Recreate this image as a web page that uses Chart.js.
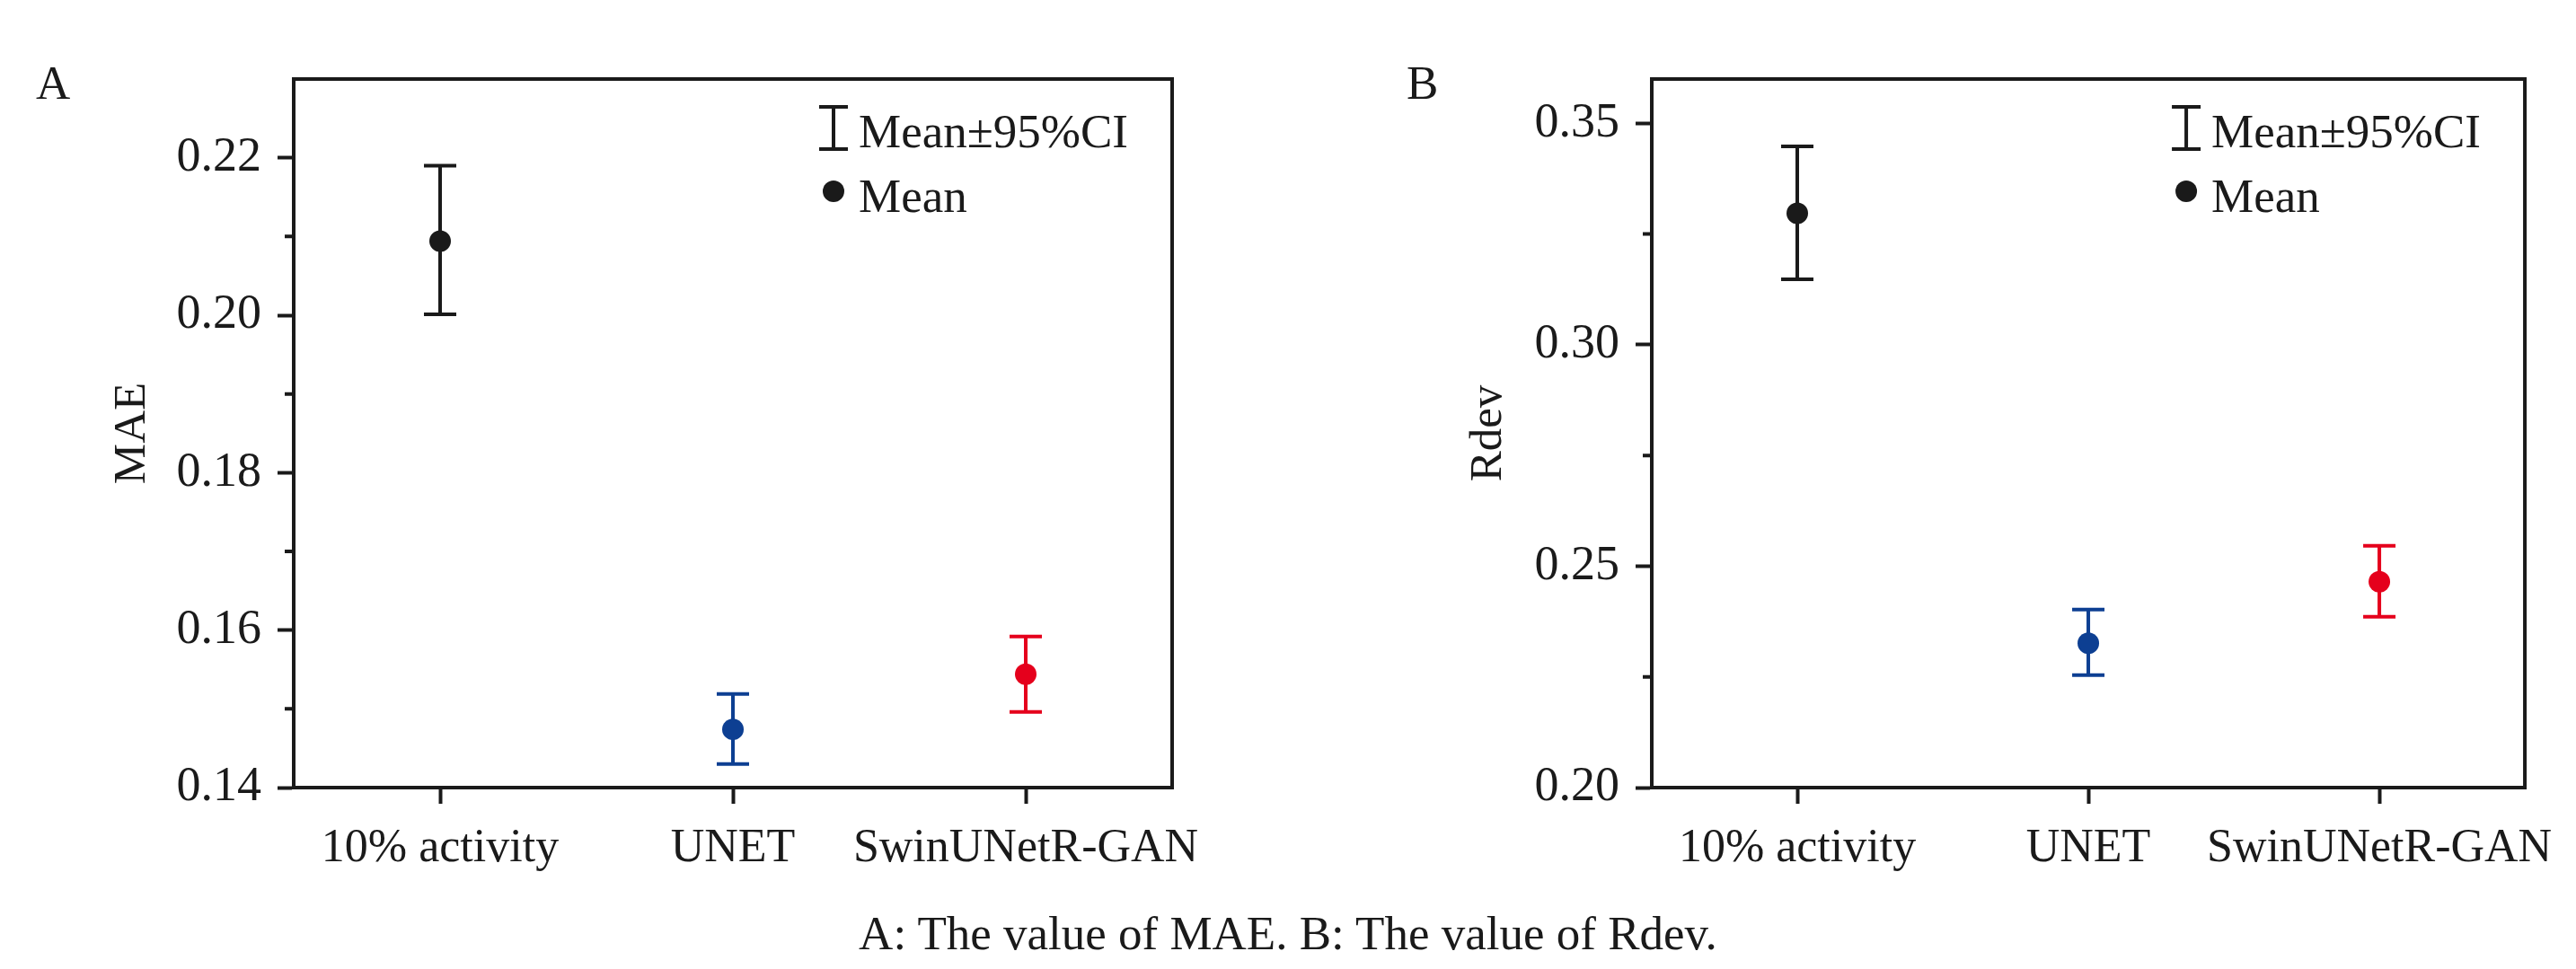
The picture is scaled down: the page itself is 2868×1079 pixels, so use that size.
<!DOCTYPE html>
<html>
<head>
<meta charset="utf-8">
<script src="https://cdn.jsdelivr.net/npm/chart.js@4.4.1/dist/chart.umd.min.js"></script>
<style>
  html, body { margin: 0; padding: 0; background: #ffffff; }
  body { width: 2868px; height: 1079px; position: relative; overflow: hidden; }
  .panel { position: absolute; top: 0; width: 1434px; height: 1000px; }
  #caption { position: absolute; left: 0; width: 2868px; top: 1013px; text-align: center;
    font-family: "Liberation Serif", "Times New Roman", serif; font-size: 53px; line-height: 53px; color: #1a1a1a; }
</style>
</head>
<body>
<div class="panel" style="left:0"><canvas id="chartA"></canvas></div>
<div class="panel" style="left:1434px"><canvas id="chartB"></canvas></div>
<div id="caption">A: The value of MAE. B: The value of Rdev.</div>
<script>
// ---- data ----
const categories = ['10% activity', 'UNET', 'SwinUNetR-GAN'];

const maeMean  = [0.2094, 0.1474, 0.1544];
const maeLower = [0.2001, 0.1430, 0.1496];
const maeUpper = [0.2190, 0.1519, 0.1592];

const rdevMean  = [0.3297, 0.2326, 0.2465];
const rdevLower = [0.3148, 0.2254, 0.2386];
const rdevUpper = [0.3448, 0.2402, 0.2546];

const maeTicks = [0.14, 0.16, 0.18, 0.20, 0.22];
const maeMinorTicks = [0.15, 0.17, 0.19, 0.21];
const rdevTicks = [0.20, 0.25, 0.30, 0.35];
const rdevMinorTicks = [0.225, 0.275, 0.325];

const legendLabels = ['Mean\u00b195%CI', 'Mean'];

// ---- styles ----
const INK = '#1a1a1a';
const pointColors = ['#1a1a1a', '#0d3f92', '#e5001c'];
const FONT = '"Liberation Serif", "Times New Roman", serif';

const panelPlugin = {
  id: 'panelDecor',
  beforeDatasetsDraw(chart) {
    const o = chart.options.plugins.panelDecor;
    const ctx = chart.ctx, xs = chart.scales.x, ys = chart.scales.y;
    ctx.save();
    ctx.lineWidth = 4;
    for (let i = 0; i < categories.length; i++) {
      const x = xs.getPixelForValue(i);
      const yl = ys.getPixelForValue(o.lower[i]);
      const yu = ys.getPixelForValue(o.upper[i]);
      ctx.strokeStyle = pointColors[i];
      ctx.beginPath();
      ctx.moveTo(x, yl); ctx.lineTo(x, yu);
      ctx.moveTo(x - 18, yl); ctx.lineTo(x + 18, yl);
      ctx.moveTo(x - 18, yu); ctx.lineTo(x + 18, yu);
      ctx.stroke();
    }
    ctx.restore();
  },
  afterDraw(chart) {
    const o = chart.options.plugins.panelDecor;
    const ctx = chart.ctx, ca = chart.chartArea, ys = chart.scales.y;
    ctx.save();
    // frame
    ctx.strokeStyle = INK;
    ctx.lineWidth = 4;
    ctx.strokeRect(ca.left, ca.top, ca.right - ca.left, ca.bottom - ca.top);
    // minor ticks
    ctx.beginPath();
    o.minor.forEach(v => {
      const y = ys.getPixelForValue(v);
      ctx.moveTo(ca.left - 10, y); ctx.lineTo(ca.left, y);
    });
    ctx.stroke();
    // panel letter
    ctx.fillStyle = INK;
    ctx.font = '53px ' + FONT;
    ctx.textAlign = 'left';
    ctx.textBaseline = 'alphabetic';
    ctx.fillText(o.letter, o.letterX, 110);
    // legend
    const ix = ca.right - 377;
    const tx = ca.right - 349;
    ctx.lineWidth = 4;
    ctx.beginPath();
    ctx.moveTo(ix, 119); ctx.lineTo(ix, 166);
    ctx.moveTo(ix - 16, 119); ctx.lineTo(ix + 16, 119);
    ctx.moveTo(ix - 16, 166); ctx.lineTo(ix + 16, 166);
    ctx.stroke();
    ctx.beginPath();
    ctx.arc(ix, 213, 12, 0, Math.PI * 2);
    ctx.fill();
    ctx.fillText(legendLabels[0], tx, 164);
    ctx.fillText(legendLabels[1], tx, 236);
    ctx.restore();
  }
};

function makeChart(id, cfg) {
  return new Chart(document.getElementById(id), {
    type: 'line',
    data: {
      labels: categories,
      datasets: [{
        data: cfg.mean,
        showLine: false,
        pointRadius: 12,
        pointHoverRadius: 12,
        pointBorderWidth: 0,
        pointBackgroundColor: pointColors,
        pointBorderColor: pointColors
      }]
    },
    options: {
      responsive: true,
      maintainAspectRatio: false,
      devicePixelRatio: 1,
      animation: false,
      events: [],
      layout: { padding: { top: 88, right: cfg.padRight, bottom: 0, left: 0 } },
      plugins: {
        legend: { display: false },
        tooltip: { enabled: false },
        panelDecor: { lower: cfg.lower, upper: cfg.upper, minor: cfg.minor, letter: cfg.letter, letterX: cfg.letterX }
      },
      scales: {
        x: {
          type: 'category',
          offset: true,
          grid: { drawOnChartArea: false, drawTicks: true, tickLength: 18, tickWidth: 4, tickColor: INK },
          border: { display: true, color: INK, width: 4 },
          ticks: { color: INK, font: { family: FONT, size: 52 }, padding: 19, maxRotation: 0, autoSkip: false },
          afterFit(s) { s.height = 123; }
        },
        y: {
          type: 'linear',
          min: cfg.min,
          max: cfg.max,
          afterBuildTicks(s) { s.ticks = cfg.ticks.map(v => ({ value: v })); },
          grid: { drawOnChartArea: false, drawTicks: true, tickLength: 18, tickWidth: 4, tickColor: INK },
          border: { display: true, color: INK, width: 4 },
          ticks: { color: INK, font: { family: FONT, size: 54 }, padding: 18, callback: v => Number(v).toFixed(2) },
          title: { display: true, text: cfg.title, color: INK, font: { family: FONT, size: 51 }, padding: { top: cfg.titlePad, bottom: 0 } },
          afterFit(s) { s.width = cfg.yWidth; }
        }
      }
    },
    plugins: [panelPlugin]
  });
}

makeChart('chartA', {
  mean: maeMean, lower: maeLower, upper: maeUpper, ticks: maeTicks, minor: maeMinorTicks,
  min: 0.14, max: 0.23, title: 'MAE', titlePad: 117, yWidth: 327, padRight: 129, letter: 'A', letterX: 40
});
makeChart('chartB', {
  mean: rdevMean, lower: rdevLower, upper: rdevUpper, ticks: rdevTicks, minor: rdevMinorTicks,
  min: 0.20, max: 0.36, title: 'Rdev', titlePad: 193, yWidth: 405, padRight: 47, letter: 'B', letterX: 132
});
</script>
</body>
</html>
